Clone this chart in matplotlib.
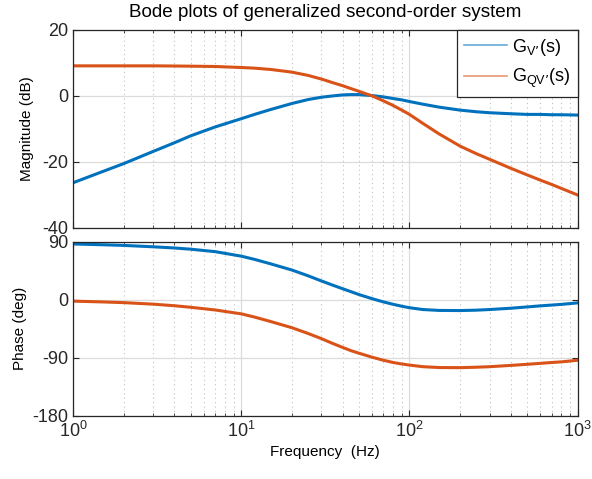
import numpy as np
import matplotlib
matplotlib.use("Agg")
import matplotlib.pyplot as plt
from matplotlib.ticker import FixedLocator, FixedFormatter, LogLocator, NullFormatter

plt.rcParams["font.family"] = ["Liberation Sans", "DejaVu Sans"]
plt.rcParams["mathtext.default"] = "regular"
plt.rcParams["axes.unicode_minus"] = False

# Values
freq_hz = [1, 1.5, 2, 3, 4, 5, 7, 10, 12, 15, 20, 25, 30, 35, 40, 45, 50,
           60, 70, 80, 90, 100, 120, 150, 200, 250, 300, 400, 500, 600, 700, 800, 1000]

mag_v = [-26.4, -23.0, -20.6, -16.9, -14.3, -12.2, -9.5, -7.0, -5.7, -4.2, -2.4,
         -1.2, -0.5, -0.1, 0.2, 0.3, 0.3, 0.0, -0.4, -0.9, -1.3, -1.8, -2.6,
         -3.5, -4.4, -4.9, -5.2, -5.5, -5.7, -5.7, -5.8, -5.8, -5.9]
mag_qv = [9.0, 9.0, 9.0, 9.0, 8.95, 8.9, 8.8, 8.5, 8.3, 7.9, 7.1,
          6.1, 5.0, 3.9, 3.0, 2.1, 1.3, -0.1, -1.6, -3.0, -4.4, -5.7, -8.4,
          -11.6, -15.3, -17.6, -19.3, -22.0, -24.0, -25.6, -26.9, -28.1, -30.1]

phase_v = [86.4, 85.2, 84.2, 82.0, 80.2, 78.3, 74.5, 67.5, 62.5, 55.5, 46.0,
           37.0, 29.0, 22.5, 17.0, 12.3, 8.0, 1.5, -3.5, -7.2, -10.2, -12.5, -15.3,
           -16.7, -16.9, -16.3, -15.3, -13.3, -11.3, -9.6, -8.4, -7.3, -5.0]
phase_qv = [-2.3, -3.5, -4.6, -7.0, -9.4, -11.8, -16.0, -22.0, -27.0, -34.0, -43.5,
            -52.5, -60.5, -68.0, -74.0, -79.2, -83.0, -89.3, -94.0, -97.5, -99.8, -101.5, -104.0,
            -105.3, -105.5, -104.8, -104.0, -102.0, -100.3, -98.8, -97.5, -96.5, -94.0]

labels = ["$G_{V\u2019}(s)$", "$G_{QV\u2019}(s)$"]
mag_ticks = [-40, -20, 0, 20]
phase_ticks = [-180, -90, 0, 90]
x_ticks = [1, 10, 100, 1000]
x_ticklabels = ["$10^{0}$", "$10^{1}$", "$10^{2}$", "$10^{3}$"]

blue = "#0072BD"
orange = "#D95319"
axcol = "#262626"

fig = plt.figure(figsize=(5.92, 4.79), dpi=100)
ax1 = fig.add_axes([0.1233, 0.5246, 0.8525, 0.4138])
ax2 = fig.add_axes([0.1233, 0.1322, 0.8525, 0.3633])

ax1.plot(freq_hz, mag_v, color=blue, lw=2.2)
ax1.plot(freq_hz, mag_qv, color=orange, lw=2.2)
ax2.plot(freq_hz, phase_v, color=blue, lw=2.2)
ax2.plot(freq_hz, phase_qv, color=orange, lw=2.2)

for ax in (ax1, ax2):
    ax.set_xscale("log")
    ax.set_xlim(1, 1000)
    ax.xaxis.set_major_locator(FixedLocator(x_ticks))
    ax.xaxis.set_minor_locator(LogLocator(base=10, subs=np.arange(2, 10)))
    ax.xaxis.set_minor_formatter(NullFormatter())
    ax.grid(True, which="major", color="#dcdcdc", lw=0.9)
    ax.grid(True, which="minor", axis="x", color="#c0c0c0", lw=0.8, ls=(0, (1, 3)))
    ax.set_axisbelow(True)
    ax.tick_params(which="both", direction="in", top=True, right=True,
                   colors=axcol, labelsize=13)
    ax.tick_params(which="major", length=4, width=0.8)
    ax.tick_params(which="minor", length=2.5, width=0.6)
    for s in ax.spines.values():
        s.set_color(axcol)
        s.set_linewidth(0.9)

ax1.set_ylim(-40, 20)
ax1.yaxis.set_major_locator(FixedLocator(mag_ticks))
ax1.xaxis.set_major_formatter(NullFormatter())
ax1.set_ylabel("Magnitude (dB)", fontsize=11, labelpad=6)
ax1.set_title("Bode plots of generalized second-order system", fontsize=13.6, pad=9)

ax2.set_ylim(-180, 90)
ax2.yaxis.set_major_locator(FixedLocator(phase_ticks))
ax2.xaxis.set_major_formatter(FixedFormatter(x_ticklabels))
ax2.set_ylabel("Phase (deg)", fontsize=11)
ax2.set_xlabel("Frequency  (Hz)", fontsize=11, labelpad=3)

h1 = ax1.plot([], [], color=blue, lw=1.2, alpha=0.6)[0]
h2 = ax1.plot([], [], color=orange, lw=1.2, alpha=0.6)[0]
leg = ax1.legend([h1, h2], labels, loc="upper right", fontsize=13,
                 fancybox=False, framealpha=1, edgecolor=axcol,
                 borderaxespad=0, handlelength=2.4, handletextpad=0.25,
                 borderpad=0.4, labelspacing=0.5)
leg.get_frame().set_linewidth(0.9)

fig.savefig("out.png", dpi=100)
